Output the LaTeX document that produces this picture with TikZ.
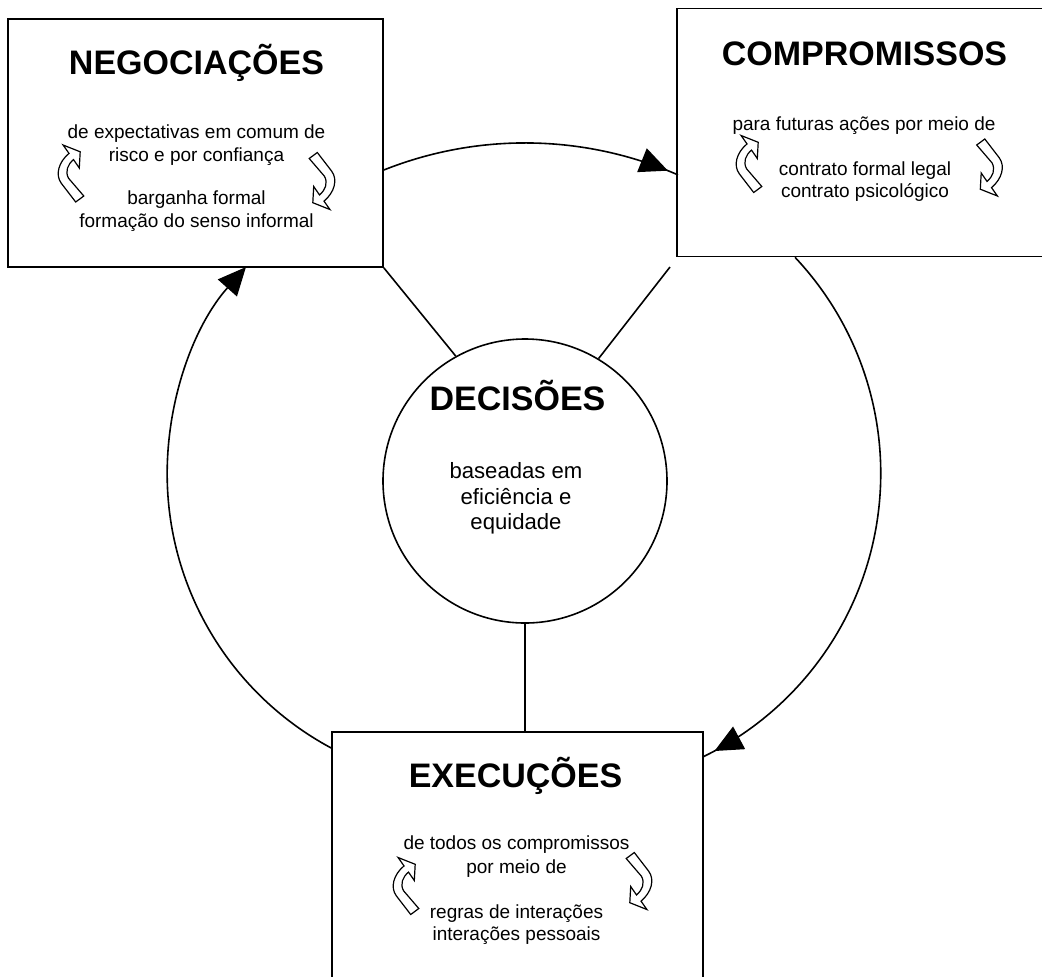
\documentclass[tikz,border=0pt]{standalone}
\usepackage{fontspec}
\setmainfont{Liberation Sans}
\usetikzlibrary{arrows.meta,decorations.markings}
\tikzset{
  box/.style={draw, line width=1.2pt, rectangle, minimum width=281.25pt, minimum height=186pt, inner sep=0pt},
  ttl/.style={font=\fontsize{25.5}{30}\selectfont\bfseries, anchor=base, inner sep=0pt},
  body/.style={font=\fontsize{14.25}{17}\selectfont, anchor=base, inner sep=0pt},
  bigbody/.style={font=\fontsize{16.6}{19.5}\selectfont, anchor=base, inner sep=0pt},
  link/.style={line width=1.2pt},
  endtip/.style={-{Triangle[length=21pt,width=19pt]}},
  curv/.pic={\draw[yscale=-1, line width=0.9pt, fill=white, line join=miter]
    (-5.4,-28.5) -- (11.7,-21.7) -- (10.8,-5.5) -- (5,-13.9)
    .. controls (-0.9,-8.9) and (-3.6,-2.1) .. (0,4.7)
    -- (15.3,22.5) -- (7.2,28.5) -- (-7.2,9.8)
    .. controls (-13.5,1.3) and (-9.9,-11.5) .. (0.5,-20.1) -- cycle;}
}
\begin{document}
\begin{tikzpicture}[x=0.75pt, y=0.75pt, yscale=-1]
\useasboundingbox (0,0) rectangle (1042,976);
\fill[white] (0,0) rectangle (1042,976);
\clip (0,0) rectangle (1042,976);

% boxes
\node[box] (neg) at (195.5,143) {};
\node[box] (comp) at (864.5,132.5) {};
\node[box, minimum width=278.25pt] (exec) at (517.5,856) {};
\node[draw, circle, line width=1.2pt, minimum size=213pt, inner sep=0pt] (dec) at (525,481) {};

% texts
\node[ttl] (negT) at (196.5,74) {NEGOCIAÇÕES};
\node[body] (neg1) at (196.5,138) {de expectativas em comum de};
\node[body] (neg2) at (196.5,161) {risco e por confiança};
\node[body] (neg3) at (196.5,204) {barganha formal};
\node[body] (neg4) at (196.5,227) {formação do senso informal};

\node[ttl] (compT) at (864.5,65) {COMPROMISSOS};
\node[body] (comp1) at (864,130) {para futuras ações por meio de};
\node[body] (comp2) at (865,175.5) {contrato formal legal};
\node[body] (comp3) at (865,197.5) {contrato psicológico};

\node[ttl] (execT) at (515.5,787) {EXECUÇÕES};
\node[body] (exec1) at (516.5,849) {de todos os compromissos};
\node[body] (exec2) at (516.5,873) {por meio de};
\node[body] (exec3) at (516.5,918) {regras de interações};
\node[body] (exec4) at (516.5,940) {interações pessoais};

\node[ttl] (decT) at (517.5,410) {DECISÕES};
\node[bigbody] (dec1) at (516,478) {baseadas em};
\node[bigbody] (dec2) at (516,504) {eficiência e};
\node[bigbody] (dec3) at (516,529) {equidade};

% spokes
\coordinate (free) at (670,267);
\draw[link] (neg.south east) -- (dec.119.5);
\draw[link] (free) -- (dec.59.7);
\draw[link] (dec.south) -- (dec.south |- exec.north);

% cycle arcs
\draw[link, postaction={decorate}, decoration={markings, mark=at position 0.964 with {\arrow{Triangle[length=21pt,width=19pt]}}}]
  (neg.east |- 0,170) arc[start angle=-111.7, end angle=-66.4, radius=286.5pt];
\draw[link, postaction={decorate}, decoration={markings, mark=at position 0.978 with {\arrow{Triangle[length=21pt,width=19pt]}}}]
  (comp.south -| 795,0) arc[start angle=-43.3, end angle=64.2, radius=236.25pt];
\draw[link, endtip]
  (exec.west |- 0,748) arc[start angle=-241.8, end angle=-138.3, radius=233.25pt];

% curved block arrows
\pic at (68.5,173.5) {curv};
\pic[rotate=180] at (324.5,181) {curv};
\pic at (746.5,164) {curv};
\pic[rotate=180] at (992,167.5) {curv};
\pic at (403.5,886) {curv};
\pic[rotate=180] at (641.5,881) {curv};
\end{tikzpicture}
\end{document}
